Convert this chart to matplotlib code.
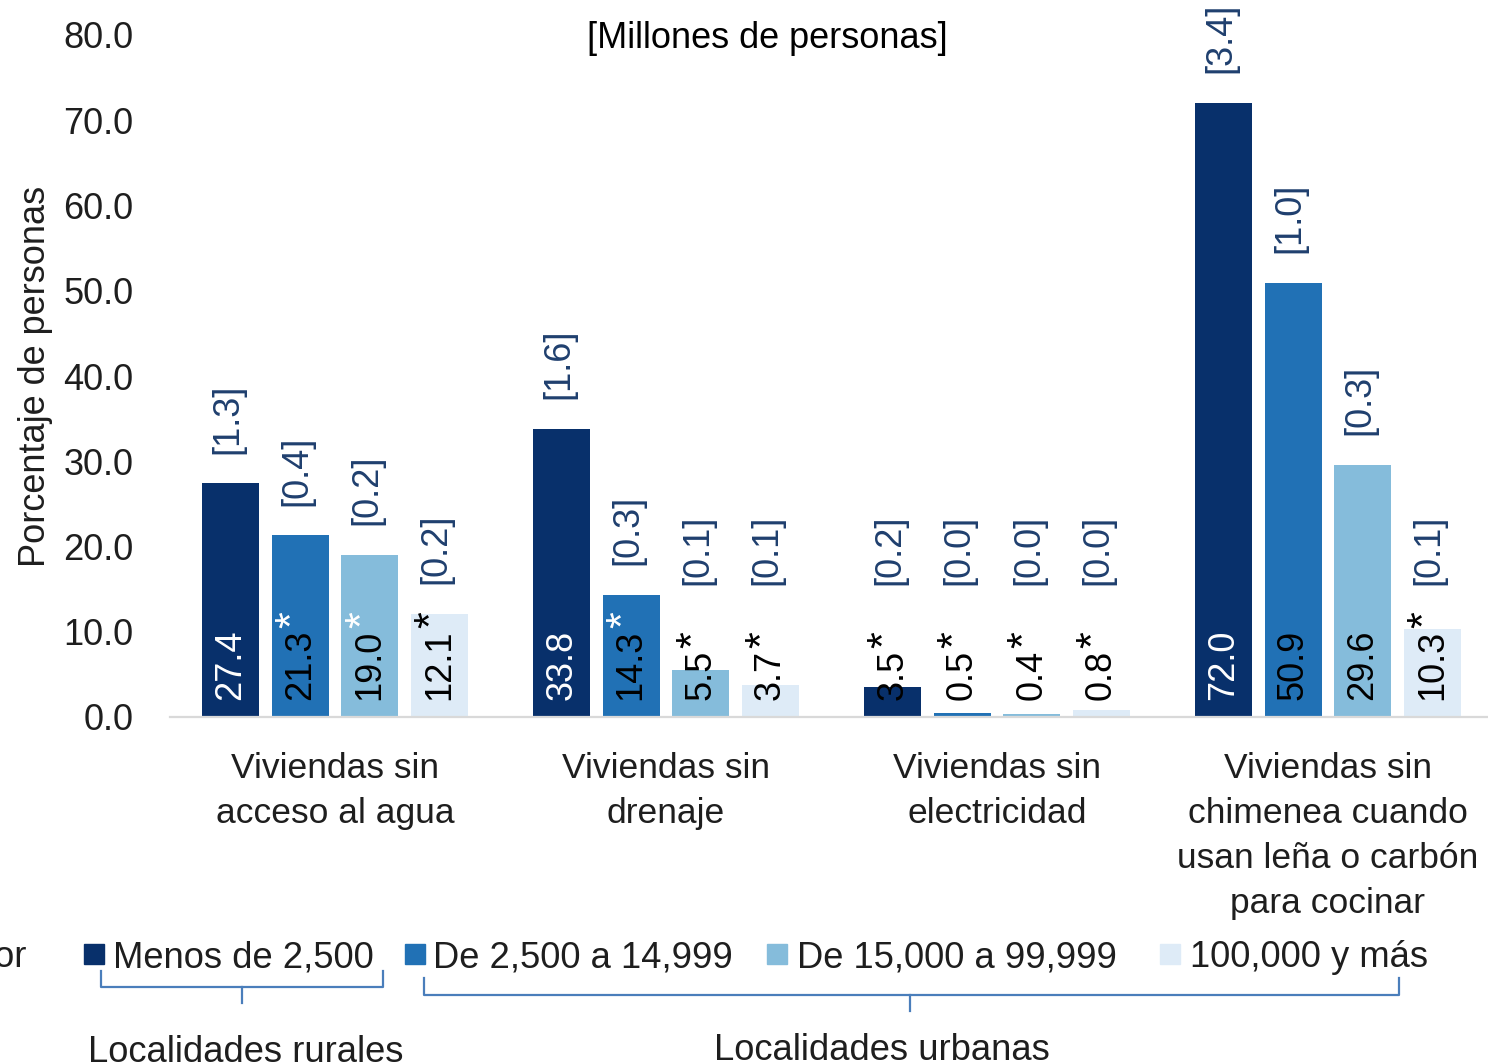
import matplotlib
matplotlib.use("Agg")
import matplotlib.pyplot as plt
from matplotlib.patches import Rectangle
from matplotlib.lines import Line2D
import numpy as np

plt.rcParams['font.family'] = ['Liberation Sans', 'DejaVu Sans']

categories = ["Viviendas sin\nacceso al agua", "Viviendas sin\ndrenaje",
              "Viviendas sin\nelectricidad",
              "Viviendas sin\nchimenea cuando\nusan leña o carbón\npara cocinar"]
series_names = ["Menos de 2,500", "De 2,500 a 14,999", "De 15,000 a 99,999", "100,000 y más"]

pct_menos_2500 = [27.4, 33.8, 3.5, 72.0]
pct_2500_14999 = [21.3, 14.3, 0.5, 50.9]
pct_15000_99999 = [19.0, 5.5, 0.4, 29.6]
pct_100000_mas = [12.1, 3.7, 0.8, 10.3]

mill_menos_2500 = [1.3, 1.6, 0.2, 3.4]
mill_2500_14999 = [0.4, 0.3, 0.0, 1.0]
mill_15000_99999 = [0.2, 0.1, 0.0, 0.3]
mill_100000_mas = [0.2, 0.1, 0.0, 0.1]

star_menos_2500 = [False, False, True, False]
star_2500_14999 = [True, True, True, False]
star_15000_99999 = [True, True, True, False]
star_100000_mas = [True, True, True, True]

yticks = [0, 10, 20, 30, 40, 50, 60, 70, 80]

pct = [pct_menos_2500, pct_2500_14999, pct_15000_99999, pct_100000_mas]
mill = [mill_menos_2500, mill_2500_14999, mill_15000_99999, mill_100000_mas]
stars = [star_menos_2500, star_2500_14999, star_15000_99999, star_100000_mas]
colors = ['#08306B', '#2171B5', '#85BCDB', '#DEEBF7']
bracket_color = '#1F3F6E'
brace_color = '#4A7EBB'
text_color = '#1E1E1E'

W, H = 1488, 1064
fig = plt.figure(figsize=(W / 100, H / 100), dpi=100)
ax = fig.add_axes([169.5 / W, 347 / H, 1324 / W, 682 / H])

def fx(x):
    return x / W

def fy(y):
    return 1 - y / H

x = np.arange(len(categories))
bw = 0.172
step = 0.21
offsets = [(-1.5 + j) * step for j in range(4)]

fs = 26
for j in range(4):
    ax.bar(x + offsets[j], pct[j], width=bw, color=colors[j], zorder=2)
    for i in range(len(categories)):
        v = pct[j][i]
        xc = x[i] + offsets[j]
        ncol = 'white' if (j == 0 and v > 12) else 'black'
        t = ax.text(xc, 2.0, f"{v:.1f}", rotation=90, ha='center', va='bottom',
                    fontsize=fs, color=ncol, zorder=3)
        if stars[j][i]:
            scol = 'white' if (j in (1, 2) and v > 13) else 'black'
            ax.annotate('*', xy=(0.5, 1.0), xycoords=t, xytext=(-5, 1),
                        textcoords='offset points', rotation=90, ha='center',
                        va='bottom', fontsize=31, color=scol, zorder=3)
        ax.text(xc - 0.01, max(v, 12) + 3.5, f"[{mill[j][i]:.1f}]", rotation=90,
                ha='center', va='bottom', fontsize=fs, color=bracket_color, zorder=3)

ax.set_xlim(-0.5, 3.5)
ax.set_ylim(0, 80)
ax.set_yticks(yticks)
ax.set_yticklabels([f"{t:.1f}" for t in yticks], fontsize=fs, color=text_color)
ax.tick_params(axis='y', length=0, pad=26)
ax.tick_params(axis='x', length=0)
ax.set_xticks([])
for s in ['top', 'right', 'left']:
    ax.spines[s].set_visible(False)
ax.spines['bottom'].set_color('#D9D9D9')
ax.spines['bottom'].set_linewidth(1.6)

for i, c in enumerate(categories):
    ax.annotate(c, xy=(x[i], 0), xycoords=('data', 'axes fraction'), xytext=(0, -25),
                textcoords='offset points', ha='center', va='top', fontsize=25.5,
                linespacing=1.46, color=text_color, annotation_clip=False)

ax.set_ylabel("Porcentaje de personas", fontsize=fs, color=text_color)
ax.yaxis.set_label_coords(-0.088, 0.5)

fig.text(fx(767), fy(39), "[Millones de personas]", ha='center', va='center',
         fontsize=fs, color='black')

# legend row
lfs = 26.2
fig.text(fx(26), fy(967), "Tamaño de localidad por", ha='right', va='baseline',
         fontsize=lfs, color=text_color)
leg_sq_x = [84, 405, 767, 1160]
leg_tx_x = [113, 433, 797, 1190]
for j in range(4):
    fig.patches.append(Rectangle((fx(leg_sq_x[j]), fy(964)), 20 / W, 20 / H,
                                 transform=fig.transFigure, color=colors[j]))
    fig.text(fx(leg_tx_x[j]), fy(967), series_names[j], ha='left', va='baseline',
             fontsize=lfs, color=text_color)

def brace(x0, x1, ytop, yh, ybot, xm):
    fig.add_artist(Line2D([fx(x0), fx(x0), fx(x1), fx(x1)],
                          [fy(ytop), fy(yh), fy(yh), fy(ytop)],
                          transform=fig.transFigure, color=brace_color, lw=1.6,
                          solid_joinstyle='round'))
    fig.add_artist(Line2D([fx(xm), fx(xm)], [fy(yh), fy(ybot)],
                          transform=fig.transFigure, color=brace_color, lw=1.6))

brace(101, 383, 971, 987, 1003, 242)
brace(424, 1399, 978, 995, 1011, 910)

fig.text(fx(246), fy(1062), "Localidades rurales", ha='center', va='baseline',
         fontsize=lfs, color=text_color)
fig.text(fx(882), fy(1060), "Localidades urbanas", ha='center', va='baseline',
         fontsize=lfs, color=text_color)

fig.savefig("out.png", dpi=100)
